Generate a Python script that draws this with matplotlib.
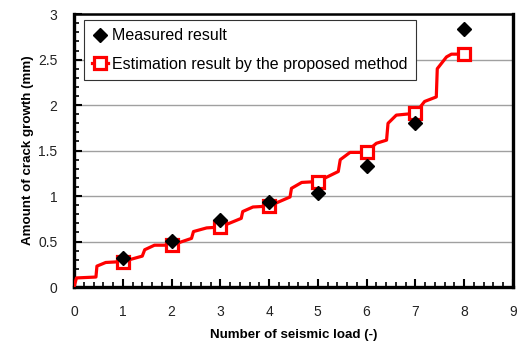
import numpy as np
import matplotlib.pyplot as plt
from matplotlib.ticker import MultipleLocator

plt.rcParams['font.family'] = ['Liberation Sans', 'DejaVu Sans']

# measured crack growth after each seismic load
n_load = [1, 2, 3, 4, 5, 6, 7, 8]
measured = [0.32, 0.51, 0.74, 0.94, 1.03, 1.33, 1.80, 2.84]

# estimated growth history (cumulative, step-like)
est_x = [0, 0.05, 0.45, 0.47, 0.65, 1,
         1.40, 1.45, 1.65, 2,
         2.41, 2.45, 2.72, 3,
         3.43, 3.46, 3.67, 4,
         4.43, 4.46, 4.67, 5,
         5.42, 5.46, 5.66, 6,
         6.07, 6.20, 6.41, 6.44, 6.61, 7,
         7.19, 7.43, 7.45, 7.64, 7.74, 8]
est_y = [0, 0.10, 0.11, 0.23, 0.27, 0.28,
         0.34, 0.41, 0.46, 0.46,
         0.535, 0.61, 0.65, 0.66,
         0.755, 0.83, 0.88, 0.89,
         0.99, 1.085, 1.15, 1.16,
         1.27, 1.40, 1.48, 1.48,
         1.52, 1.58, 1.615, 1.80, 1.89, 1.91,
         2.04, 2.09, 2.40, 2.53, 2.56, 2.56]

fig = plt.figure(figsize=(5.26, 3.45), dpi=100)
ax = fig.add_axes([0.1407, 0.168, 0.8343, 0.791])

# marker only at whole load counts
marks = [i for i, x in enumerate(est_x) if x > 0 and float(x).is_integer()]
ax.plot(est_x, est_y, color='#ff0000', lw=2.3, marker='s', markevery=marks,
        ms=9, mfc='white', mec='#ff0000', mew=2.3, zorder=3,
        label='Estimation result by the proposed method')
ax.plot(n_load, measured, 'D', color='black', ms=7, zorder=4,
        label='Measured result')

ax.set_xlim(0, 9)
ax.set_ylim(0, 3)
ax.xaxis.set_major_locator(MultipleLocator(1))
ax.xaxis.set_minor_locator(MultipleLocator(0.2))
ax.yaxis.set_major_locator(MultipleLocator(0.5))
ax.yaxis.set_minor_locator(MultipleLocator(0.1))
ax.yaxis.set_major_formatter(plt.FuncFormatter(lambda v, p: f'{v:g}'))

ax.tick_params(which='both', direction='in', top=False, right=False,
               labelsize=10, colors='black')
ax.tick_params(which='major', length=6, width=1.5)
ax.tick_params(which='minor', length=3.5, width=1.2)
ax.tick_params(axis='x', pad=13)
ax.tick_params(axis='y', pad=12)
for lbl in ax.get_xticklabels() + ax.get_yticklabels():
    lbl.set_color('#222222')

ax.grid(axis='y', which='major', color='#a0a0a0', lw=1.0)
ax.set_axisbelow(True)
for side in ['left', 'bottom', 'right']:
    ax.spines[side].set_linewidth(2.4)
ax.spines['top'].set_linewidth(1.8)

lab_font = dict(family=['Liberation Sans', 'DejaVu Sans'],
                weight='bold', size=9.6)
ax.set_xlabel('Number of seismic load (-)', fontdict=lab_font, labelpad=7)
ax.set_ylabel('Amount of crack growth (mm)', fontdict=lab_font, labelpad=3)

handles, labels = ax.get_legend_handles_labels()
leg = ax.legend(handles[::-1], labels[::-1], loc='upper left',
                bbox_to_anchor=(0.023, 0.978), borderaxespad=0,
                fontsize=11.5, frameon=True, fancybox=False, edgecolor='#333333',
                framealpha=1, handlelength=1.0, handletextpad=0.25,
                borderpad=0.5, labelspacing=0.85)
leg.get_frame().set_linewidth(0.8)

fig.savefig('out.png', dpi=100)
